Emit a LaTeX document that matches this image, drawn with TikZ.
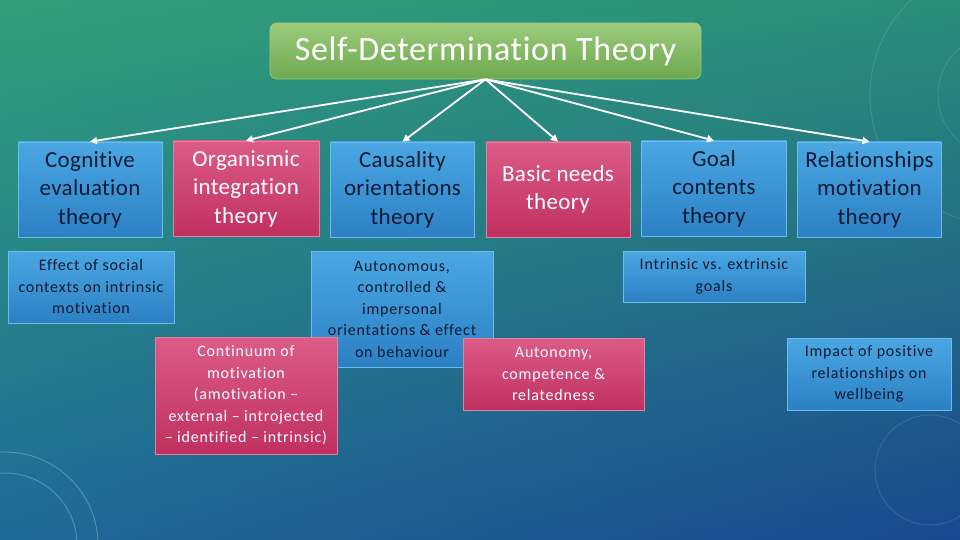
\documentclass[tikz,border=0pt]{standalone}
\usepackage{fontspec}
\setmainfont{Carlito}[Ligatures=NoCommon]
\usetikzlibrary{arrows.meta,shadings}
\definecolor{bgul}{HTML}{31A07A}
\definecolor{bgur}{HTML}{2A8E7A}
\definecolor{bgll}{HTML}{1E6A98}
\definecolor{bglr}{HTML}{1A4890}
\definecolor{bluetop}{HTML}{4AA7E3}
\definecolor{bluebot}{HTML}{2C80C4}
\definecolor{blueedge}{HTML}{6DBBEA}
\definecolor{pinktop}{HTML}{DC5C87}
\definecolor{pinkbot}{HTML}{C0305F}
\definecolor{pinkedge}{HTML}{E4809F}
\definecolor{greentop}{HTML}{9CCB7C}
\definecolor{greenbot}{HTML}{6EA84F}
\definecolor{darktext}{HTML}{0E1B33}

\begin{document}
\begin{tikzpicture}[x=1pt,y=-1pt,>={Triangle[length=7pt,width=7pt]},
  bluebox/.style={draw=blueedge,line width=0.7pt,top color=bluetop,bottom color=bluebot,
    text=darktext,align=center,inner sep=0pt},
  pinkbox/.style={draw=pinkedge,line width=0.7pt,top color=pinktop,bottom color=pinkbot,
    text=white,align=center,inner sep=0pt},
  big/.style={font=\fontsize{23}{28.5}\selectfont\addfontfeatures{LetterSpace=1.5},
    minimum width=144pt,minimum height=95pt},
  small/.style={font=\fontsize{16}{21.5}\selectfont\addfontfeatures{LetterSpace=5}},
  link/.style={->,draw=white,line width=1.8pt}]
% ---- background ----
\shade[upper left=bgul,upper right=bgur,lower left=bgll,lower right=bglr]
  (0,0) rectangle (960,540);
\useasboundingbox (0,0) rectangle (960,540);
% faint decoration
\begin{scope}[white,line width=0.9pt]
  \clip (0,0) rectangle (960,540);
  \draw[opacity=0.25] (5,545) circle (72);
  \draw[opacity=0.25] (5,545) circle (93);
  \draw[opacity=0.12] (1000,95) circle (62);
  \draw[opacity=0.12] (1000,95) circle (130);
  \draw[opacity=0.12] (930,470) circle (55);
\end{scope}
% ---- title ----
\node[draw=greentop,line width=0.7pt,rounded corners=7pt,top color=greentop,bottom color=greenbot,
  text=white,minimum width=431pt,minimum height=56pt,inner sep=0pt,
  font=\fontsize{34}{38}\selectfont\addfontfeatures{LetterSpace=2}] (sdt) at (485.5,51)
  {Self-Determination Theory};
% ---- the six theories ----
\node[bluebox,big] (cet) at (90,189.5)   {Cognitive\\evaluation\\theory};
\node[pinkbox,big,minimum width=146pt] (oit) at (246,188.5) {Organismic\\integration\\theory};
\node[bluebox,big] (cot) at (402.5,189.5) {Causality\\orientations\\theory};
\node[pinkbox,big] (bnt) at (558,189.5)  {Basic needs\\theory};
\node[bluebox,big,minimum width=145pt] (gct) at (714,188.5) {Goal\\contents\\theory};
\node[bluebox,big] (rmt) at (869.5,189.5) {Relationships\\motivation\\theory};
% ---- arrows ----
\foreach \t in {cet,oit,cot,bnt,gct,rmt}
  \draw[link] (sdt.south) -- (\t.north);
% ---- descriptions ----
\node[bluebox,small,minimum width=166pt,minimum height=72pt] (cetd) at (91,287)
  {Effect of social\\contexts on intrinsic\\motivation};
\node[bluebox,small,minimum width=182pt,minimum height=116pt] (cotd) at (402,309)
  {Autonomous,\\controlled \&\\impersonal\\orientations \& effect\\on behaviour};
\node[pinkbox,small,minimum width=182pt,minimum height=117pt] (oitd) at (246,395.5)
  {Continuum of\\motivation\\(amotivation --\\external -- introjected\\-- identified -- intrinsic)};
\node[pinkbox,small,minimum width=181pt,minimum height=72pt] (bntd) at (553.5,374)
  {Autonomy,\\competence \&\\relatedness};
\node[bluebox,small,minimum width=182pt,minimum height=51pt] (gctd) at (714,276.5)
  {Intrinsic vs. extrinsic\\goals};
\node[bluebox,small,minimum width=164pt,minimum height=72pt] (rmtd) at (869,374)
  {Impact of positive\\relationships on\\wellbeing};
\end{tikzpicture}
\end{document}
